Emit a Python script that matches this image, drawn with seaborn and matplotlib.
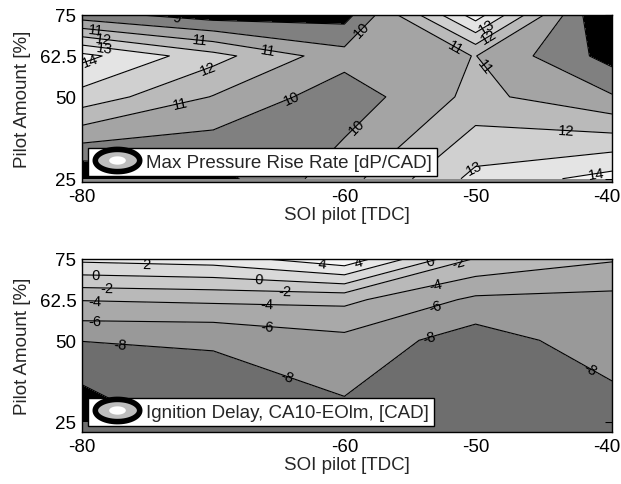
import numpy as np
import matplotlib
matplotlib.use("Agg")
import matplotlib.pyplot as plt
import seaborn as sns
from matplotlib.lines import Line2D
from matplotlib.path import Path

# grid of the measurements (last column sits on the frame edge)
soi = [-80, -70, -60, -50, -39.6]
amount = [25, 50, 62.5, 75]

# max pressure rise rate [dP/CAD], one list per pilot amount
prr_25 = [8.0, 8.6, 10.6, 13.3, 14.4]
prr_50 = [12.6, 10.95, 9.4, 11.3, 10.1]
prr_625 = [14.3, 12.35, 10.4, 11.02, 8.6]
prr_75 = [9.4, 8.5, 8.6, 14.5, 7.5]

# ignition delay CA10-EOIm [CAD]
ign_25 = [-11.7, -8.67, -8.63, -9.5, -9.2]
ign_50 = [-7.95, -7.9, -6.6, -9.06, -6.8]
ign_625 = [-3.9, -3.6, -3.5, -6.4, -6.6]
ign_75 = [2.5, 3.0, 5.5, -2.2, -3.8]

prr_levels = [9, 10, 11, 12, 13, 14]
ign_levels = [-10, -8, -6, -4, -2, 0, 2, 4]

yticks = [25, 50, 62.5, 75]
yticklabels = ["25", "50", "62.5", "75"]
xticks = [-80, -60, -50, -40]
xticklabels = ["-80", "-60", "-50", "-40"]

sns.set_theme(style="white")
plt.rcParams["font.family"] = ["Liberation Sans", "DejaVu Sans"]
plt.rcParams["axes.unicode_minus"] = False
plt.rcParams["contour.negative_linestyle"] = "solid"

prr_colors = ["#000000", "#808080", "#a4a4a4", "#bababa", "#d0d0d0", "#e4e4e4", "#f4f4f4"]
ign_colors = ["#000000", "#6e6e6e", "#999999", "#a9a9a9", "#b9b9b9",
              "#c9c9c9", "#d9d9d9", "#e8e8e8", "#f6f6f6"]

X, Y = np.meshgrid(soi, amount)
Z1 = np.array([prr_25, prr_50, prr_625, prr_75])
Z2 = np.array([ign_25, ign_50, ign_625, ign_75])

fig = plt.figure(figsize=(6.21, 4.85), dpi=100)
ax1 = fig.add_axes([82 / 621, 1 - 183 / 485, 530 / 621, 167 / 485])
ax2 = fig.add_axes([82 / 621, 1 - 433 / 485, 530 / 621, 173 / 485])

# ellipse marker for legend icon
t = np.linspace(0, 2 * np.pi, 60)
ell = Path(np.column_stack([np.cos(t), 0.5 * np.sin(t)]), closed=True)

prr_lbl = [(-72.8, 74.1), (-71.0, 68.6), (-79.0, 69.5), (-78.4, 67.0), (-78.3, 64.6),
           (-79.4, 61.5), (-70.3, 57.9), (-65.9, 62.8), (-72.5, 47.3), (-64.2, 51.5),
           (-58.6, 70.1), (-58.7, 39.6), (-51.5, 65.5), (-49.1, 71.3), (-48.8, 67.1),
           (-49.4, 59.1), (-43.1, 38.1), (-49.9, 27.4), (-40.8, 26.2)]
ign_lbl = [(-75.1, 72.9), (-79.0, 69.8), (-78.1, 64.9), (-79.0, 61.3), (-79.0, 55.2),
           (-77.1, 49.7), (-66.5, 69.2), (-64.5, 65.0), (-65.9, 60.8), (-65.9, 53.0),
           (-64.6, 36.9), (-61.7, 73.0), (-58.9, 74.0), (-53.4, 73.5), (-51.2, 73.0),
           (-53.0, 66.8), (-53.2, 61.9), (-53.4, 49.7), (-41.6, 39.0)]

panels = [
    (ax1, Z1, prr_levels, prr_colors, prr_lbl, "Max Pressure Rise Rate [dP/CAD]", 24.0, "#8a8a8a"),
    (ax2, Z2, ign_levels, ign_colors, ign_lbl, "Ignition Delay, CA10-EOlm, [CAD]", 21.8, "#6e6e6e"),
]

for ax, Z, levels, colors, lbl, name, ylo, bg in panels:
    ax.set_facecolor(bg)
    ax.contourf(X, Y, Z, levels=levels, colors=colors, extend="both")
    cs = ax.contour(X, Y, Z, levels=levels, colors="black", linewidths=0.8,
                    linestyles="solid")
    ax.clabel(cs, inline=False, fontsize=10.5, fmt="%g", manual=lbl)
    ax.set_xlim(-80, -39.6)
    ax.set_ylim(ylo, 75)
    ax.set_xticks(xticks)
    ax.set_xticklabels(xticklabels)
    ax.set_yticks(yticks)
    ax.set_yticklabels(yticklabels)
    ax.tick_params(direction="in", length=5, width=0.8, top=True, right=True,
                   labelsize=13.5, pad=4, colors="black")
    for s in ax.spines.values():
        s.set_color("black")
        s.set_linewidth(1.0)
    ax.set_xlabel("SOI pilot [TDC]", fontsize=13.5, labelpad=1)
    ax.set_ylabel("Pilot Amount [%]", fontsize=13.5, labelpad=6)

    outer = Line2D([], [], linestyle="none", marker=ell, markersize=32,
                   markerfacecolor="#bdbdbd", markeredgecolor="black", markeredgewidth=4)
    inner = Line2D([], [], linestyle="none", marker=ell, markersize=12,
                   markerfacecolor="white", markeredgecolor="white", markeredgewidth=0)
    leg = ax.legend([(outer, inner)], [name], loc="lower left", fontsize=13.5,
                    frameon=True, fancybox=False, framealpha=1, edgecolor="black",
                    borderaxespad=0.3, handlelength=2.5, handletextpad=0.3,
                    borderpad=0.3)
    leg.get_frame().set_linewidth(1.0)

fig.savefig("out.png", dpi=100)
